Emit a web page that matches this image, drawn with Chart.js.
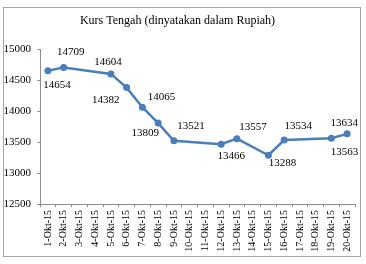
<!DOCTYPE html>
<html>
<head>
<meta charset="utf-8">
<script src="https://cdn.jsdelivr.net/npm/chart.js@4/dist/chart.umd.min.js"></script>
<style>
  html, body { margin: 0; padding: 0; background: #fff; }
  #wrap { width: 366px; height: 264px; }
</style>
</head>
<body>
<div id="wrap"><canvas id="chart" width="366" height="264"></canvas></div>
<script>
// dates on the x axis
const dates = [
  '1-Okt-15', '2-Okt-15', '3-Okt-15', '4-Okt-15', '5-Okt-15',
  '6-Okt-15', '7-Okt-15', '8-Okt-15', '9-Okt-15', '10-Okt-15',
  '11-Okt-15', '12-Okt-15', '13-Okt-15', '14-Okt-15', '15-Okt-15',
  '16-Okt-15', '17-Okt-15', '18-Okt-15', '19-Okt-15', '20-Okt-15'
];

// kurs tengah, null where there was no rate published
const kurs = [
  14654, 14709, null, null, 14604,
  14382, 14065, 13809, 13521, null,
  null, 13466, 13557, null, 13288,
  13534, null, null, 13563, 13634
];

const yTicks = [12500, 13000, 13500, 14000, 14500, 15000];

const serif = "'Liberation Serif', 'Times New Roman', serif";
const blue = '#4a7ebb';
const axisGrey = '#8c8c8c';

// where each value label sits relative to its point (px)
const labelShift = {
  0: [9, 14], 1: [7, -15], 4: [-3, -12], 5: [-21, 12], 6: [19, -10],
  7: [-13, 10], 8: [17, -15], 11: [10, 12], 12: [16, -12], 14: [14, 8],
  15: [14, -14], 18: [13, 14], 19: [-3, -11]
};

const frame = {
  id: 'frame',
  beforeDraw(chart) {
    const ctx = chart.ctx;
    ctx.save();
    ctx.fillStyle = '#fff';
    ctx.fillRect(0, 0, chart.width, chart.height);
    ctx.strokeStyle = '#a6a6a6';
    ctx.lineWidth = 1;
    ctx.strokeRect(3.5, 7.5, 357, 249);
    ctx.restore();
  }
};

const valueLabels = {
  id: 'valueLabels',
  afterDatasetsDraw(chart) {
    const ctx = chart.ctx;
    const meta = chart.getDatasetMeta(0);
    ctx.save();
    ctx.font = '11px ' + serif;
    ctx.fillStyle = '#000';
    ctx.textAlign = 'center';
    ctx.textBaseline = 'middle';
    meta.data.forEach((pt, i) => {
      const v = kurs[i];
      if (v === null) return;
      const s = labelShift[i] || [0, -12];
      ctx.fillText(String(v), pt.x + s[0], pt.y + s[1]);
    });
    ctx.restore();
  }
};

new Chart(document.getElementById('chart'), {
  type: 'line',
  data: {
    labels: dates,
    datasets: [{
      data: kurs,
      borderColor: blue,
      backgroundColor: blue,
      borderWidth: 2.5,
      pointRadius: 3.5,
      pointBorderWidth: 0,
      pointBackgroundColor: blue,
      spanGaps: true,
      tension: 0
    }]
  },
  options: {
    responsive: false,
    animation: false,
    layout: { padding: { left: 0, right: 11, top: 0, bottom: 0 } },
    plugins: {
      legend: { display: false },
      tooltip: { enabled: false },
      title: {
        display: true,
        text: 'Kurs Tengah (dinyatakan dalam Rupiah)',
        color: '#000',
        font: { family: serif, size: 12, weight: 'normal' },
        padding: { top: 14, bottom: 21 }
      }
    },
    scales: {
      x: {
        offset: true,
        grid: { display: true, drawOnChartArea: false, offset: true, color: axisGrey, tickLength: 3 },
        border: { color: axisGrey },
        ticks: {
          color: '#000',
          font: { family: serif, size: 10 },
          minRotation: 90,
          maxRotation: 90,
          autoSkip: false,
          padding: 3
        },
        afterFit(scale) { scale.height = 60; }
      },
      y: {
        min: 12500,
        max: 15000,
        afterBuildTicks(scale) { scale.ticks = yTicks.map(v => ({ value: v })); },
        grid: { display: true, drawOnChartArea: false, color: axisGrey, tickLength: 3 },
        border: { color: axisGrey },
        ticks: {
          color: '#000',
          font: { family: serif, size: 11 },
          padding: 6,
          callback: v => String(v)
        },
        afterFit(scale) { scale.width = 40; }
      }
    }
  },
  plugins: [frame, valueLabels]
});
</script>
</body>
</html>
